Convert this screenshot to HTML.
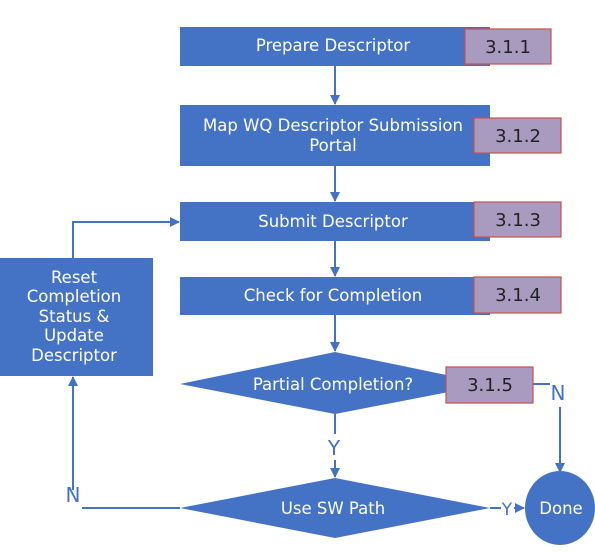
<!DOCTYPE html>
<html><head><meta charset="utf-8"><style>
body{margin:0;background:#fff;width:595px;height:548px;overflow:hidden}
svg text{font-family:"DejaVu Sans","Liberation Sans",sans-serif}
</style></head><body>
<svg width="595" height="548" viewBox="0 0 595 548" xmlns="http://www.w3.org/2000/svg">
<defs><marker id="a" markerWidth="10" markerHeight="10" refX="9" refY="5" orient="auto" markerUnits="userSpaceOnUse"><path d="M0,0 L10,5 L0,10 z" fill="#4472C4"/></marker></defs>
<g stroke="#4472C4" stroke-width="2" fill="none">
<line x1="335" y1="66" x2="335" y2="104" marker-end="url(#a)"/>
<line x1="335" y1="166" x2="335" y2="201" marker-end="url(#a)"/>
<line x1="335" y1="241" x2="335" y2="276" marker-end="url(#a)"/>
<line x1="335" y1="315" x2="335" y2="351" marker-end="url(#a)"/>
<line x1="335" y1="414" x2="335" y2="434"/>
<line x1="335" y1="460" x2="335" y2="477" marker-end="url(#a)"/>
<polyline points="73,258 73,222 179,222" marker-end="url(#a)"/>
<line x1="180" y1="508" x2="82" y2="508"/>
<line x1="73" y1="490" x2="73" y2="377" marker-end="url(#a)"/>
<line x1="533" y1="384" x2="550" y2="384"/>
<line x1="560" y1="407" x2="560" y2="472" marker-end="url(#a)"/>
<line x1="490" y1="508" x2="501" y2="508"/>
<line x1="514" y1="508" x2="524" y2="508" marker-end="url(#a)"/>
</g>
<g fill="#4472C4">
<rect x="180" y="27" width="310" height="39"/>
<rect x="180" y="105" width="310" height="61"/>
<rect x="180" y="202" width="310" height="39"/>
<rect x="180" y="277" width="310" height="38"/>
<rect x="0" y="258" width="153" height="118"/>
<polygon points="180,384 335,352 490,384 335,414"/>
<polygon points="180,508 335,478 490,508 335,538"/>
<ellipse cx="560" cy="508" rx="35" ry="37"/>
</g>
<g fill="#A99BC0" stroke="#C9504D" stroke-width="1.2">
<rect x="465" y="29" width="86" height="35"/>
<rect x="474" y="118" width="87" height="35"/>
<rect x="474" y="202" width="87" height="35"/>
<rect x="474" y="277" width="87" height="36"/>
<rect x="446" y="367" width="87" height="36"/>
</g>
<g fill="#222" font-size="18" text-anchor="middle">
<text x="508" y="53">3.1.1</text>
<text x="518" y="142">3.1.2</text>
<text x="518" y="226">3.1.3</text>
<text x="518" y="301">3.1.4</text>
<text x="490" y="391">3.1.5</text>
</g>
<g fill="#fff" font-size="16.5" text-anchor="middle">
<text x="333" y="51">Prepare Descriptor</text>
<text x="333" y="131">Map WQ Descriptor Submission</text>
<text x="333" y="151">Portal</text>
<text x="333" y="227">Submit Descriptor</text>
<text x="333" y="301">Check for Completion</text>
<text x="333" y="390">Partial Completion?</text>
<text x="333" y="514">Use SW Path</text>
<text x="561" y="514">Done</text>
<text x="74" y="283">Reset</text>
<text x="74" y="302">Completion</text>
<text x="74" y="322">Status &amp;</text>
<text x="74" y="341">Update</text>
<text x="74" y="361">Descriptor</text>
</g>
<g fill="#4472C4" font-size="20" text-anchor="middle">
<text x="334" y="455">Y</text>
<text x="73" y="502">N</text>
<text x="558" y="400">N</text>
<text x="507" y="515" font-size="17">Y</text>
</g>
</svg>
</body></html>
